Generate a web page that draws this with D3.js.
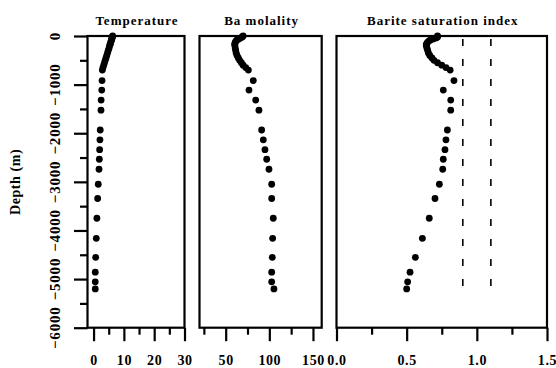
<!DOCTYPE html>
<html>
<head>
<meta charset="utf-8">
<script src="https://cdn.jsdelivr.net/npm/d3@7"></script>
<style>
  html, body { margin: 0; padding: 0; background: #fff; }
  svg { display: block; }
  text { font-family: "Liberation Serif", "Times New Roman", serif; font-weight: bold; fill: #000; }
</style>
</head>
<body>
<svg id="chart" width="556" height="368"></svg>
<script>
// ---- data ----
const depths = [0, -20, -40, -60, -80, -100, -125, -150, -175, -200, -250, -300, -350, -400, -450, -500, -550, -600, -650, -700,
  -917, -1113, -1317, -1525, -1934, -2135, -2339, -2535, -2741, -3049, -3342, -3749, -4161, -4552, -4857, -5057, -5203];
const temperature = [6.3, 6.2, 6.1, 6.0, 5.9, 5.8, 5.7, 5.6, 5.45, 5.3, 5.1, 4.85, 4.6, 4.35, 4.1, 3.85, 3.6, 3.35, 3.1, 2.9,
  2.8, 2.7, 2.5, 2.45, 2.2, 2.1, 2.0, 1.9, 1.8, 1.55, 1.35, 1.1, 0.9, 0.7, 0.56, 0.56, 0.56];
const baMolality = [70, 69, 67, 65, 63, 62, 61, 60.5, 60.5, 60.5, 61, 61.5, 62, 63, 64.5, 66, 68, 70, 73, 76,
  81.6, 76.7, 84.4, 88.1, 91.2, 93.1, 95, 97, 99.6, 102.7, 102.7, 104.5, 103.8, 103.4, 102.7, 102.7, 105.3];
const bariteSI = [0.72, 0.72, 0.71, 0.69, 0.67, 0.66, 0.65, 0.645, 0.64, 0.64, 0.645, 0.65, 0.655, 0.665, 0.68, 0.695, 0.72, 0.75, 0.78, 0.81,
  0.837, 0.761, 0.814, 0.814, 0.79, 0.78, 0.773, 0.761, 0.757, 0.733, 0.702, 0.661, 0.612, 0.562, 0.524, 0.507, 0.5];
const saturationBounds = [0.9, 1.1];
const depthTicks = [0, -1000, -2000, -3000, -4000, -5000, -6000];
const depthMinorTicks = [-500, -1500, -2500, -3500, -4500, -5500];
const tempTicks = [0, 10, 20, 30];
const tempMinor = [5, 15, 25];
const baTicks = [50, 100, 150];
const baMinor = [25, 75, 125];
const siTicks = [0.0, 0.5, 1.0, 1.5];
const siMinor = [0.25, 0.75, 1.25];
const titles = ["Temperature", "Ba molality", "Barite saturation index"];

// ---- layout ----
const svg = d3.select("#chart");
const plotTop = 36, plotBottom = 327.7;
const y = d3.scaleLinear().domain([0, -6000]).range([plotTop, plotBottom]);

const panels = [
  { title: titles[0], values: temperature, domain: [-2, 30], range: [87.5, 184.5], ticks: tempTicks, minor: tempMinor, fmt: d3.format("d") },
  { title: titles[1], values: baMolality, domain: [20, 160], range: [199.5, 321.7], ticks: baTicks, minor: baMinor, fmt: d3.format("d") },
  { title: titles[2], values: bariteSI, domain: [0, 1.5], range: [336.5, 547], ticks: siTicks, minor: siMinor, fmt: d3.format(".1f") }
];

const SW = 2.2;

panels.forEach((p, i) => {
  const x = d3.scaleLinear().domain(p.domain).range(p.range);
  const g = svg.append("g");

  // frame
  g.append("rect")
    .attr("x", p.range[0]).attr("y", plotTop)
    .attr("width", p.range[1] - p.range[0]).attr("height", plotBottom - plotTop)
    .attr("fill", "none").attr("stroke", "#000").attr("stroke-width", SW);

  // title
  g.append("text")
    .attr("x", (p.range[0] + p.range[1]) / 2 + 1)
    .attr("y", 25)
    .attr("text-anchor", "middle")
    .attr("font-size", 13)
    .attr("letter-spacing", 1.0)
    .text(p.title);

  // bottom axis major
  const ax = g.append("g").attr("transform", `translate(0,${plotBottom})`)
    .call(d3.axisBottom(x).tickValues(p.ticks).tickSize(13.5).tickFormat(p.fmt));
  ax.select(".domain").remove();
  ax.selectAll("line").attr("stroke-width", SW);
  ax.selectAll("text")
    .attr("y", 37.8).attr("dy", null)
    .attr("font-size", 14)
    .attr("letter-spacing", 0.6)
    .attr("font-family", "Liberation Serif, serif")
    .attr("font-weight", "bold");

  // bottom axis minor
  const axm = g.append("g").attr("transform", `translate(0,${plotBottom})`)
    .call(d3.axisBottom(x).tickValues(p.minor).tickSize(7).tickFormat(""));
  axm.select(".domain").remove();
  axm.selectAll("line").attr("stroke-width", SW);

  // dashed reference lines
  if (i === 2) {
    g.selectAll("line.ref").data(saturationBounds).enter().append("line")
      .attr("class", "ref")
      .attr("x1", d => x(d)).attr("x2", d => x(d))
      .attr("y1", y(0)).attr("y2", y(d3.min(depths)) + 0.5)
      .attr("stroke", "#000").attr("stroke-width", 1.6)
      .attr("stroke-dasharray", "7,13").attr("stroke-dashoffset", 17);
  }

  // points
  g.selectAll("circle").data(p.values).enter().append("circle")
    .attr("cx", d => x(d))
    .attr("cy", (d, j) => y(depths[j]))
    .attr("r", 3.4)
    .attr("fill", "#000");
});

// y axis
const yAxisX = 87.5;
const ya = svg.append("g").attr("transform", `translate(${yAxisX},0)`)
  .call(d3.axisLeft(y).tickValues(depthTicks).tickSize(13.5).tickFormat(""));
ya.select(".domain").remove();
ya.selectAll("line").attr("stroke-width", SW);
const yam = svg.append("g").attr("transform", `translate(${yAxisX},0)`)
  .call(d3.axisLeft(y).tickValues(depthMinorTicks).tickSize(7.5).tickFormat(""));
yam.select(".domain").remove();
yam.selectAll("line").attr("stroke-width", SW);

svg.append("g").selectAll("text").data(depthTicks).enter().append("text")
  .attr("transform", d => `translate(59.5,${y(d)}) rotate(-90)`)
  .attr("text-anchor", "middle")
  .attr("font-size", 15)
  .attr("letter-spacing", 0.8)
  .text(d => d3.format("d")(d));

svg.append("text")
  .attr("transform", `translate(20,${(plotTop + plotBottom) / 2}) rotate(-90)`)
  .attr("text-anchor", "middle")
  .attr("font-size", 14)
  .attr("letter-spacing", 0.6)
  .text("Depth (m)");
</script>
</body>
</html>
